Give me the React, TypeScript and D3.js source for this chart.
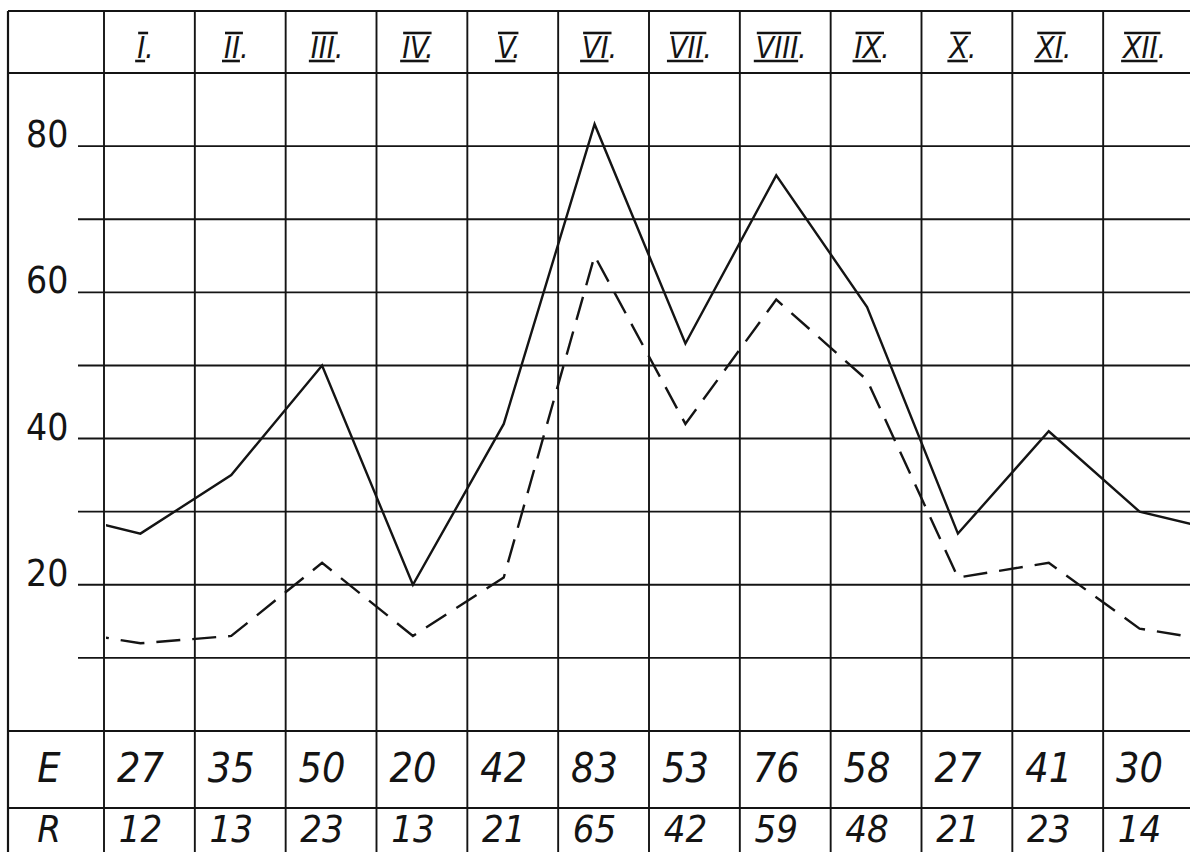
import React, { useEffect, useRef } from "react";
import * as d3 from "d3";

const months = ["I.", "II.", "III.", "IV.", "V.", "VI.", "VII.", "VIII.", "IX.", "X.", "XI.", "XII."];
const seriesE = [27, 35, 50, 20, 42, 83, 53, 76, 58, 27, 41, 30];
const seriesR = [12, 13, 23, 13, 21, 65, 42, 59, 48, 21, 23, 14];
const rowLabels = ["E", "R"];
const yTickLabels = [80, 60, 40, 20];
const gridLevels = [10, 20, 30, 40, 50, 60, 70, 80];

const W = 1190;
const H = 852;
const FONT = "'Liberation Sans Narrow','DejaVu Sans Condensed','Liberation Sans',sans-serif";

export default function App() {
  const ref = useRef<SVGSVGElement>(null);

  useEffect(() => {
    const svg = d3.select(ref.current);
    svg.selectAll("*").remove();

    const left = 8;
    const top = 11;
    const x = d3.scaleBand<string>().domain(months).range([104, 1194]);
    const y = d3.scaleLinear().domain([0, 90]).range([731, 73]);
    const rowH = 77;
    const rowTop = y(0);
    const shift = -9;
    const cx = (m: string) => (x(m) as number) + x.bandwidth() / 2 + shift;
    const ink = "#141414";

    const g = svg.append("g");

    // outer frame & full-width lines
    const fullH = [top, y(90), y(0), y(0) + rowH];
    g.selectAll("line.full")
      .data(fullH)
      .join("line")
      .attr("x1", left)
      .attr("x2", W)
      .attr("y1", (d) => d)
      .attr("y2", (d) => d)
      .attr("stroke", ink)
      .attr("stroke-width", 2.2);
    g.append("line")
      .attr("x1", left)
      .attr("x2", left)
      .attr("y1", top)
      .attr("y2", H)
      .attr("stroke", ink)
      .attr("stroke-width", 2.2);

    // grid horizontal levels
    g.selectAll("line.grid")
      .data(gridLevels)
      .join("line")
      .attr("x1", 78)
      .attr("x2", W)
      .attr("y1", (d) => y(d))
      .attr("y2", (d) => y(d))
      .attr("stroke", ink)
      .attr("stroke-width", 1.9);

    // column lines
    g.selectAll("line.col")
      .data(months)
      .join("line")
      .attr("x1", (d) => x(d) as number)
      .attr("x2", (d) => x(d) as number)
      .attr("y1", top)
      .attr("y2", H)
      .attr("stroke", ink)
      .attr("stroke-width", 1.9);

    // y labels
    g.selectAll("text.ylab")
      .data(yTickLabels)
      .join("text")
      .attr("x", 26)
      .attr("y", (d) => y(d) + 1)
      .attr("font-family", FONT)
      .attr("font-size", 37)
      .attr("fill", ink)
      .text((d) => d);

    // header roman numerals with over/underline
    months.forEach((m) => {
      const numeral = m.replace(".", "");
      const fs = 30;
      const t = g
        .append("text")
        .attr("x", cx(m) + 5)
        .attr("y", 58)
        .attr("text-anchor", "middle")
        .attr("font-family", FONT)
        .attr("font-style", "italic")
        .attr("font-size", fs)
        .attr("fill", ink)
        .text(m);
      const node = t.node() as SVGTextElement;
      const total = node.getComputedTextLength();
      const startX = cx(m) + 5 - total / 2;
      const tmp = g
        .append("text")
        .attr("font-family", FONT)
        .attr("font-style", "italic")
        .attr("font-size", fs)
        .text(numeral);
      const nw = (tmp.node() as SVGTextElement).getComputedTextLength();
      tmp.remove();
      g.append("line")
        .attr("x1", startX + 1)
        .attr("x2", startX + nw + 3)
        .attr("y1", 33)
        .attr("y2", 33)
        .attr("stroke", ink)
        .attr("stroke-width", 2.6);
      g.append("line")
        .attr("x1", startX - 2)
        .attr("x2", startX + nw)
        .attr("y1", 61)
        .attr("y2", 61)
        .attr("stroke", ink)
        .attr("stroke-width", 2.6);
    });

    const baselines = [rowTop + 51, rowTop + rowH + 34];
    const sizes = [41, 38];

    // row labels
    g.selectAll("text.rowlab")
      .data(rowLabels)
      .join("text")
      .attr("x", 49)
      .attr("y", (_d, i) => baselines[i])
      .attr("text-anchor", "middle")
      .attr("font-family", FONT)
      .attr("font-style", "italic")
      .attr("font-size", (_d, i) => sizes[i])
      .attr("fill", ink)
      .text((d) => d);

    // table values
    [seriesE, seriesR].forEach((series, r) => {
      g.selectAll(`text.val${r}`)
        .data(series)
        .join("text")
        .attr("x", (_d, i) => cx(months[i]))
        .attr("y", baselines[r])
        .attr("text-anchor", "middle")
        .attr("font-family", FONT)
        .attr("font-style", "italic")
        .attr("font-size", sizes[r])
        .attr("fill", ink)
        .text((d) => d);
    });

    // lines (wrap around: previous December and next January for edges)
    const clipId = "plotclip";
    svg
      .append("defs")
      .append("clipPath")
      .attr("id", clipId)
      .append("rect")
      .attr("x", 106)
      .attr("y", y(90))
      .attr("width", W - 106)
      .attr("height", y(0) - y(90));

    const bw = x.bandwidth();
    const build = (series: number[]) => {
      const pts: [number, number][] = [];
      pts.push([cx(months[0]) - bw, y(series[series.length - 1])]);
      series.forEach((v, i) => pts.push([cx(months[i]), y(v)]));
      pts.push([cx(months[months.length - 1]) + bw, y(series[0])]);
      return pts;
    };
    const line = d3.line();

    g.append("path")
      .attr("d", line(build(seriesE)))
      .attr("fill", "none")
      .attr("stroke", ink)
      .attr("stroke-width", 2.4)
      .attr("stroke-linejoin", "miter")
      .attr("clip-path", `url(#${clipId})`);

    g.append("path")
      .attr("d", line(build(seriesR)))
      .attr("fill", "none")
      .attr("stroke", ink)
      .attr("stroke-width", 2.4)
      .attr("stroke-dasharray", "24 12")
      .attr("clip-path", `url(#${clipId})`);
  }, []);

  return (
    <svg
      ref={ref}
      width={W}
      height={H}
      style={{ position: "absolute", left: 0, top: 0, background: "#fff" }}
    />
  );
}
